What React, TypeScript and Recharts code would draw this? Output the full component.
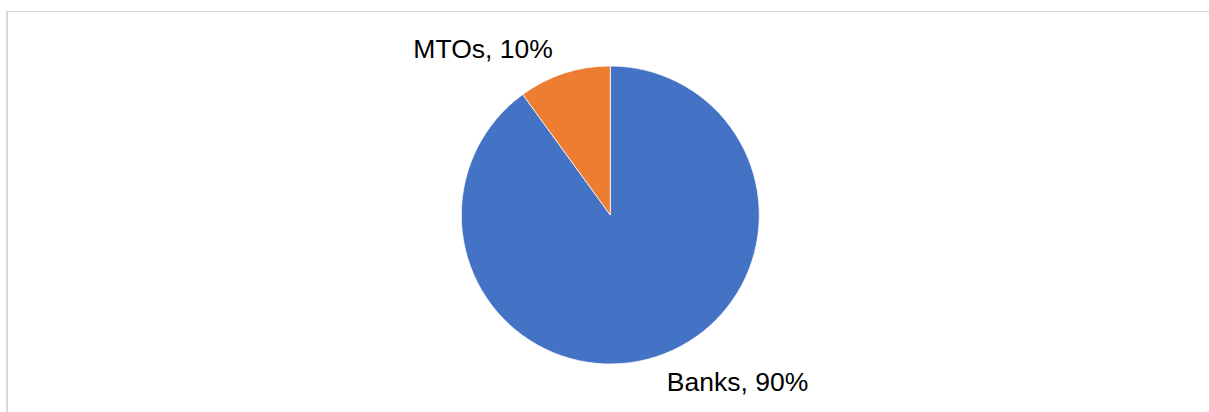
import { PieChart, Pie, Cell } from "recharts";

const CATEGORIES = ["Banks", "MTOs"];
const SHARES = [90, 10];
const SLICE_COLORS = ["#4472C4", "#ED7D31"];

const RADIAN = Math.PI / 180;
const FONT = '"Liberation Sans", Arial, sans-serif';

const chartData = CATEGORIES.map((name, i) => ({ name, value: SHARES[i] }));

// best-fit style label: pushed out past the rim and swung a bit counter-clockwise
function SliceLabel(props: {
  cx?: number;
  cy?: number;
  midAngle?: number;
  outerRadius?: number;
  index?: number;
}) {
  const { cx = 0, cy = 0, midAngle = 0, outerRadius = 0, index = 0 } = props;
  const r = outerRadius + 60.5;
  const angle = (midAngle + 19.4) * RADIAN;
  const x = cx + r * Math.cos(angle);
  const y = cy - r * Math.sin(angle);
  return (
    <text
      x={x}
      y={y + 9.5}
      textAnchor="middle"
      fill="#000000"
      fontSize={26.5}
      fontFamily={FONT}
    >
      {`${CATEGORIES[index]}, ${SHARES[index]}%`}
    </text>
  );
}

export default function App() {
  return (
    <div
      style={{
        position: "fixed",
        left: 0,
        top: 0,
        width: 1209,
        height: 412,
        background: "#ffffff",
        overflow: "hidden",
      }}
    >
      <div
        style={{
          position: "absolute",
          left: 6,
          top: 11,
          width: 1240,
          height: 440,
          borderLeft: "2px solid #d9d9d9",
          borderTop: "1.5px solid #d9d9d9",
          boxSizing: "border-box",
        }}
      />
      <div style={{ position: "absolute", left: 0, top: 0 }}>
        <PieChart
          width={1209}
          height={412}
          margin={{ top: 0, right: 0, bottom: 0, left: 0 }}
        >
          <Pie
            data={chartData}
            dataKey="value"
            nameKey="name"
            cx={610.3}
            cy={215}
            outerRadius={149}
            startAngle={90}
            endAngle={-270}
            stroke="#ffffff"
            strokeWidth={0.75}
            labelLine={false}
            label={<SliceLabel />}
            isAnimationActive={false}
          >
            {chartData.map((item, i) => (
              <Cell key={item.name} fill={SLICE_COLORS[i]} />
            ))}
          </Pie>
        </PieChart>
      </div>
    </div>
  );
}
